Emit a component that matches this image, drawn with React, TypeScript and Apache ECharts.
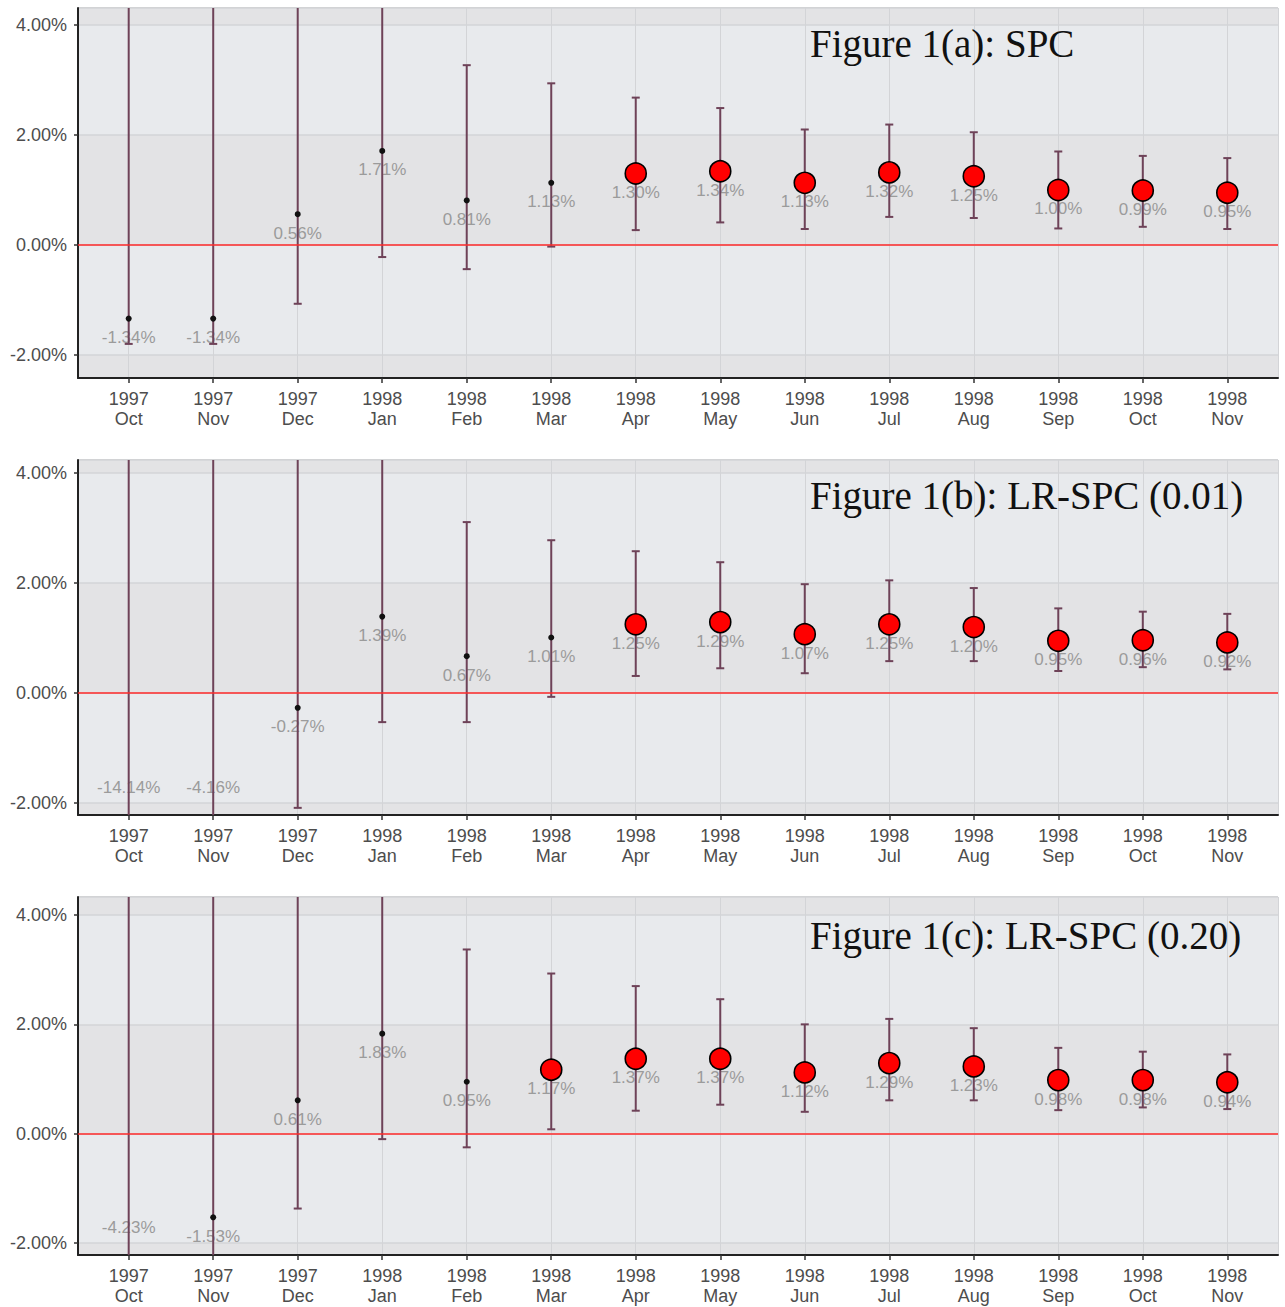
import React, { useEffect, useRef } from 'react';
import * as echarts from 'echarts';

// ---------- data ----------
const YEARS = ['1997', '1997', '1997', '1998', '1998', '1998', '1998', '1998', '1998', '1998', '1998', '1998', '1998', '1998'];
const MONTHS = ['Oct', 'Nov', 'Dec', 'Jan', 'Feb', 'Mar', 'Apr', 'May', 'Jun', 'Jul', 'Aug', 'Sep', 'Oct', 'Nov'];
const Y_TICKS = [-2, 0, 2, 4];
const ZERO_LINE = 0;

// Figure 1(a): SPC
const A_EST = [-1.34, -1.34, 0.56, 1.71, 0.81, 1.13, 1.30, 1.34, 1.13, 1.32, 1.25, 1.00, 0.99, 0.95];
const A_LOWER = [-1.80, -1.80, -1.07, -0.22, -0.44, -0.03, 0.27, 0.41, 0.29, 0.51, 0.49, 0.30, 0.33, 0.29];
const A_UPPER = [9.0, 9.0, 7.0, 5.5, 3.27, 2.94, 2.68, 2.49, 2.10, 2.19, 2.05, 1.70, 1.62, 1.58];
const A_FLAG = [0, 0, 0, 0, 0, 0, 1, 1, 1, 1, 1, 1, 1, 1];

// Figure 1(b): LR-SPC (0.01)
const B_EST = [-14.14, -4.16, -0.27, 1.39, 0.67, 1.01, 1.25, 1.29, 1.07, 1.25, 1.20, 0.95, 0.96, 0.92];
const B_LOWER = [-30.0, -12.0, -2.09, -0.53, -0.53, -0.07, 0.31, 0.45, 0.36, 0.58, 0.58, 0.40, 0.47, 0.43];
const B_UPPER = [15.0, 10.0, 7.0, 5.5, 3.11, 2.78, 2.58, 2.38, 1.98, 2.05, 1.91, 1.54, 1.48, 1.44];
const B_FLAG = [0, 0, 0, 0, 0, 0, 1, 1, 1, 1, 1, 1, 1, 1];

// Figure 1(c): LR-SPC (0.20)
const C_EST = [-4.23, -1.53, 0.61, 1.83, 0.95, 1.17, 1.37, 1.37, 1.12, 1.29, 1.23, 0.98, 0.98, 0.94];
const C_LOWER = [-12.0, -8.0, -1.37, -0.10, -0.25, 0.08, 0.42, 0.53, 0.40, 0.61, 0.61, 0.43, 0.48, 0.45];
const C_UPPER = [10.0, 8.0, 7.0, 5.5, 3.37, 2.93, 2.70, 2.46, 2.00, 2.10, 1.93, 1.57, 1.50, 1.45];
const C_FLAG = [0, 0, 0, 0, 0, 1, 1, 1, 1, 1, 1, 1, 1, 1];

const TITLES = ['Figure 1(a): SPC', 'Figure 1(b): LR-SPC (0.01)', 'Figure 1(c): LR-SPC (0.20)'];
const PANEL_DATA = [
  { est: A_EST, lower: A_LOWER, upper: A_UPPER, flag: A_FLAG, yMin: -2.42, yMax: 4.31 },
  { est: B_EST, lower: B_LOWER, upper: B_UPPER, flag: B_FLAG, yMin: -2.22, yMax: 4.24 },
  { est: C_EST, lower: C_LOWER, upper: C_UPPER, flag: C_FLAG, yMin: -2.22, yMax: 4.33 },
];

// ---------- layout ----------
const LAYOUT = [
  { top: 8, height: 370, titleY: 43 },
  { top: 460, height: 355, titleY: 495 },
  { top: 897, height: 358, titleY: 935 },
];
const GRID_LEFT = 78;
const GRID_WIDTH = 1200;
const TITLE_X = 810;

const BAR_COLOR = '#6e4258';
const TICK_COLOR = '#4d4d4d';
const LABEL_COLOR = '#9b9b9b';
const SANS = '"Liberation Sans", Arial, sans-serif';

const isMult = (v: number, m: number) => Math.abs(v / m - Math.round(v / m)) < 1e-6;

export default function App() {
  const ref = useRef<HTMLDivElement>(null);

  useEffect(() => {
    document.body.style.margin = '0';
    if (!ref.current) return;
    const chart = echarts.init(ref.current, null, { renderer: 'svg' });

    const grid: any[] = [];
    const xAxis: any[] = [];
    const yAxis: any[] = [];
    const series: any[] = [];
    const graphic: any[] = [];

    PANEL_DATA.forEach((p, gi) => {
      const lay = LAYOUT[gi];
      grid.push({
        left: GRID_LEFT,
        top: lay.top,
        width: GRID_WIDTH,
        height: lay.height,
        show: true,
        borderColor: '#9a9a9a',
        borderWidth: 1,
        backgroundColor: 'transparent',
        containLabel: false,
      });
      xAxis.push({
        type: 'value',
        gridIndex: gi,
        min: -0.6,
        max: MONTHS.length - 0.4,
        splitNumber: MONTHS.length,
        axisLine: { show: true, onZero: false, lineStyle: { color: '#222', width: 2 } },
        axisTick: { show: true, length: 5, lineStyle: { color: '#333', width: 1.5 } },
        axisLabel: {
          show: true,
          showMinLabel: false,
          showMaxLabel: false,
          color: TICK_COLOR,
          fontSize: 18,
          lineHeight: 20,
          margin: 11,
          fontFamily: SANS,
          formatter: (v: number) => {
            if (!isMult(v, 1)) return '';
            const i = Math.round(v);
            return YEARS[i] !== undefined ? `${YEARS[i]}\n${MONTHS[i]}` : '';
          },
        },
        splitLine: { show: true, lineStyle: { color: '#d3d4d7', width: 1 } },
      });
      yAxis.push({
        type: 'value',
        gridIndex: gi,
        min: p.yMin,
        max: p.yMax,
        splitNumber: 3,
        axisLine: { show: true, onZero: false, lineStyle: { color: '#222', width: 2 } },
        axisTick: { show: true, length: 4, lineStyle: { color: '#333', width: 1.5 } },
        axisLabel: {
          show: true,
          showMinLabel: false,
          showMaxLabel: false,
          color: TICK_COLOR,
          fontSize: 18,
          margin: 11,
          fontFamily: SANS,
          formatter: (v: number) =>
            isMult(v, 2) && Y_TICKS.some((t) => Math.abs(t - v) < 1e-6) ? `${v.toFixed(2)}%` : '',
        },
        splitLine: { show: true, lineStyle: { color: '#d3d4d7', width: 1.5 } },
        splitArea: { show: true, areaStyle: { color: ['#e3e3e5', '#e8eaed'] } },
      });

      // value labels + zero line
      series.push({
        type: 'custom',
        xAxisIndex: gi,
        yAxisIndex: gi,
        z: 2,
        silent: true,
        data: p.est.map((v, i) => [i, v]),
        encode: { x: 0, y: 1 },
        renderItem: (params: any, api: any) => {
          const x = api.value(0);
          const v = api.value(1);
          const cs = params.coordSys;
          const pt = api.coord([x, v]);
          let y = pt[1] + 19;
          if (v < p.yMin) y = cs.y + cs.height - 28;
          return {
            type: 'text',
            x: pt[0],
            y,
            style: {
              text: `${v.toFixed(2)}%`,
              fill: LABEL_COLOR,
              font: `17px ${SANS}`,
              align: 'center',
              verticalAlign: 'middle',
            },
          };
        },
        markLine: {
          silent: true,
          symbol: 'none',
          label: { show: false },
          lineStyle: { color: '#ff2b2b', width: 1.6, type: 'solid' },
          data: [{ yAxis: ZERO_LINE }],
        },
      });

      // error bars
      series.push({
        type: 'custom',
        xAxisIndex: gi,
        yAxisIndex: gi,
        z: 3,
        silent: true,
        data: p.est.map((_, i) => [i, p.lower[i], p.upper[i]]),
        encode: { x: 0, y: [1, 2] },
        renderItem: (params: any, api: any) => {
          const x = api.value(0);
          const lo = api.coord([x, api.value(1)]);
          const hi = api.coord([x, api.value(2)]);
          const cs = params.coordSys;
          const top = cs.y;
          const bottom = cs.y + cs.height;
          const yHi = Math.max(hi[1], top);
          const yLo = Math.min(lo[1], bottom);
          const style = { stroke: BAR_COLOR, lineWidth: 2 };
          const children: any[] = [
            { type: 'line', shape: { x1: hi[0], y1: yHi, x2: hi[0], y2: yLo }, style },
          ];
          if (hi[1] >= top) children.push({ type: 'line', shape: { x1: hi[0] - 4, y1: hi[1], x2: hi[0] + 4, y2: hi[1] }, style });
          if (lo[1] <= bottom) children.push({ type: 'line', shape: { x1: lo[0] - 4, y1: lo[1], x2: lo[0] + 4, y2: lo[1] }, style });
          return { type: 'group', children };
        },
      });

      // points
      series.push({
        type: 'scatter',
        xAxisIndex: gi,
        yAxisIndex: gi,
        z: 4,
        clip: true,
        silent: true,
        data: p.est.map((v, i) =>
          p.flag[i]
            ? { value: [i, v], symbolSize: 21, itemStyle: { color: '#ff0000', borderColor: '#000', borderWidth: 1.6, opacity: 1 } }
            : { value: [i, v], symbolSize: 6, itemStyle: { color: '#111', borderWidth: 0, opacity: 1 } }
        ),
      });

      graphic.push({
        type: 'text',
        x: TITLE_X,
        y: lay.titleY,
        z: 100,
        style: {
          text: TITLES[gi],
          font: `39px "Liberation Serif", "Times New Roman", serif`,
          fill: '#111',
          align: 'left',
          verticalAlign: 'middle',
        },
      });
    });

    chart.setOption({
      animation: false,
      backgroundColor: '#ffffff',
      grid,
      xAxis,
      yAxis,
      series,
      graphic,
    });

    return () => chart.dispose();
  }, []);

  return <div ref={ref} style={{ width: 1285, height: 1307 }} />;
}
